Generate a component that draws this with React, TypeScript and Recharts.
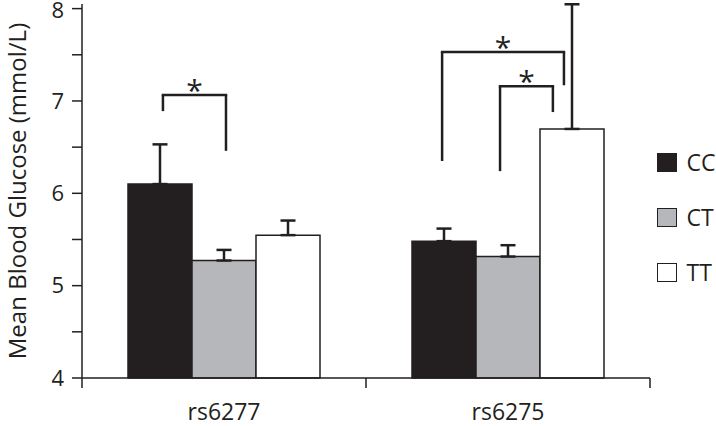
import React from 'react'
import {
  BarChart,
  Bar,
  XAxis,
  YAxis,
  ErrorBar,
  Legend,
  ReferenceLine,
} from 'recharts'

const FONT = '"Open Sans", sans-serif'
const INK = '#231f20'

const categories = ['rs6277', 'rs6275']
const ccMean = [6.1, 5.482]
const ccErr = [0.43, 0.136]
const ctMean = [5.272, 5.315]
const ctErr = [0.115, 0.123]
const ttMean = [5.547, 6.697]
const ttErr = [0.158, 1.35]

const yTicks = [4, 4.5, 5, 5.5, 6, 6.5, 7, 7.5, 8]

// significance brackets, x in group units (0..2), y in mmol/L
const bracketX1 = [0.285, 1.268, 1.472]
const bracketX2 = [0.507, 1.697, 1.658]
const bracketTop = [7.064, 7.53, 7.16]
const bracketLeftEnd = [6.89, 6.35, 6.24]
const bracketRightEnd = [6.46, 7.17, 6.88]

const groupEdges = [0, 1, 2]

const data = categories.map((name, i) => ({
  name,
  slot: i + 0.5,
  CC: ccMean[i],
  ccErr: [0, ccErr[i]],
  CT: ctMean[i],
  ctErr: [0, ctErr[i]],
  TT: ttMean[i],
  ttErr: [0, ttErr[i]],
}))

const YTick = (props: any) => {
  const { x, y, payload } = props
  const v = payload.value
  if (!Number.isInteger(v)) return null
  // keep the top label inside the picture
  const yy = v === 8 ? Math.max(y, 10.5) : y
  return (
    <text x={x} y={yy} dy="0.355em" textAnchor="end" fill={INK} fontSize={22} fontFamily={FONT}>
      {v}
    </text>
  )
}

const renderLegend = (props: any) => {
  const { payload } = props
  return (
    <div style={{ width: 59, fontFamily: FONT }}>
      {payload.map((entry: any) => (
        <div key={entry.value} style={{ display: 'flex', alignItems: 'center', height: 55 }}>
          <span
            style={{
              width: 19.5,
              height: 19.5,
              flex: 'none',
              boxSizing: 'border-box',
              background: entry.color,
              border: `1.5px solid ${INK}`,
              display: 'inline-block',
            }}
          />
          <span style={{ marginLeft: 10, fontSize: 23, color: INK, whiteSpace: 'nowrap', lineHeight: '23px' }}>
            {entry.value}
          </span>
        </div>
      ))}
    </div>
  )
}

export default function App() {
  return (
    <div style={{ position: 'absolute', left: 0, top: 0 }}>
      <BarChart
        width={716}
        height={426}
        data={data}
        margin={{ top: 4, right: 7, bottom: 0, left: 0 }}
        barGap={0}
        barCategoryGap={46}
        style={{ fontFamily: FONT }}
      >
        <XAxis
          dataKey="name"
          height={48}
          axisLine={{ stroke: INK, strokeWidth: 1.5 }}
          tickLine={false}
          tickMargin={20}
          tick={{ fill: INK, fontSize: 23 }}
        />
        <XAxis xAxisId="num" dataKey="slot" type="number" domain={[0, 2]} hide allowDataOverflow />
        <YAxis
          width={82}
          domain={[4, 8.05]}
          ticks={yTicks}
          interval={0}
          tickSize={10}
          tickMargin={8}
          axisLine={{ stroke: INK, strokeWidth: 1.5 }}
          tickLine={{ stroke: INK, strokeWidth: 1.5 }}
          tick={<YTick />}
          label={{
            value: 'Mean Blood Glucose (mmol/L)',
            angle: -90,
            position: 'insideLeft',
            offset: 17,
            style: { textAnchor: 'middle', fill: INK, fontSize: 24 },
          }}
        />
        <Legend
          layout="vertical"
          align="right"
          verticalAlign="middle"
          content={renderLegend}
          wrapperStyle={{ top: 135, right: 0 }}
        />
        <Bar dataKey="CC" fill={INK} stroke={INK} strokeWidth={1.5} isAnimationActive={false}>
          <ErrorBar dataKey="ccErr" width={7.5} stroke={INK} strokeWidth={2.5} />
        </Bar>
        <Bar dataKey="CT" fill="#b6b7ba" stroke={INK} strokeWidth={1.5} isAnimationActive={false}>
          <ErrorBar dataKey="ctErr" width={7.5} stroke={INK} strokeWidth={2.5} />
        </Bar>
        <Bar dataKey="TT" fill="#ffffff" stroke={INK} strokeWidth={1.5} isAnimationActive={false}>
          <ErrorBar dataKey="ttErr" width={7.5} stroke={INK} strokeWidth={2.5} />
        </Bar>
        {groupEdges.map((g) => (
          <ReferenceLine
            key={`edge-${g}`}
            xAxisId="num"
            segment={[
              { x: g, y: 4 },
              { x: g, y: 3.892 },
            ]}
            ifOverflow="visible"
            stroke={INK}
            strokeWidth={1.5}
          />
        ))}
        {bracketX1.map((x1, i) => (
          <ReferenceLine
            key={`bl-${i}`}
            xAxisId="num"
            segment={[
              { x: x1, y: bracketLeftEnd[i] },
              { x: x1, y: bracketTop[i] },
            ]}
            ifOverflow="visible"
            stroke={INK}
            strokeWidth={2.5}
          />
        ))}
        {bracketX2.map((x2, i) => (
          <ReferenceLine
            key={`br-${i}`}
            xAxisId="num"
            segment={[
              { x: x2, y: bracketRightEnd[i] },
              { x: x2, y: bracketTop[i] },
            ]}
            ifOverflow="visible"
            stroke={INK}
            strokeWidth={2.5}
          />
        ))}
        {bracketX1.map((x1, i) => (
          <ReferenceLine
            key={`bt-${i}`}
            xAxisId="num"
            segment={[
              { x: x1, y: bracketTop[i] },
              { x: bracketX2[i], y: bracketTop[i] },
            ]}
            ifOverflow="visible"
            stroke={INK}
            strokeWidth={2.5}
            strokeLinecap="square"
            label={{ value: '*', position: 'top', offset: -6, fill: INK, fontSize: 30 }}
          />
        ))}
      </BarChart>
    </div>
  )
}
